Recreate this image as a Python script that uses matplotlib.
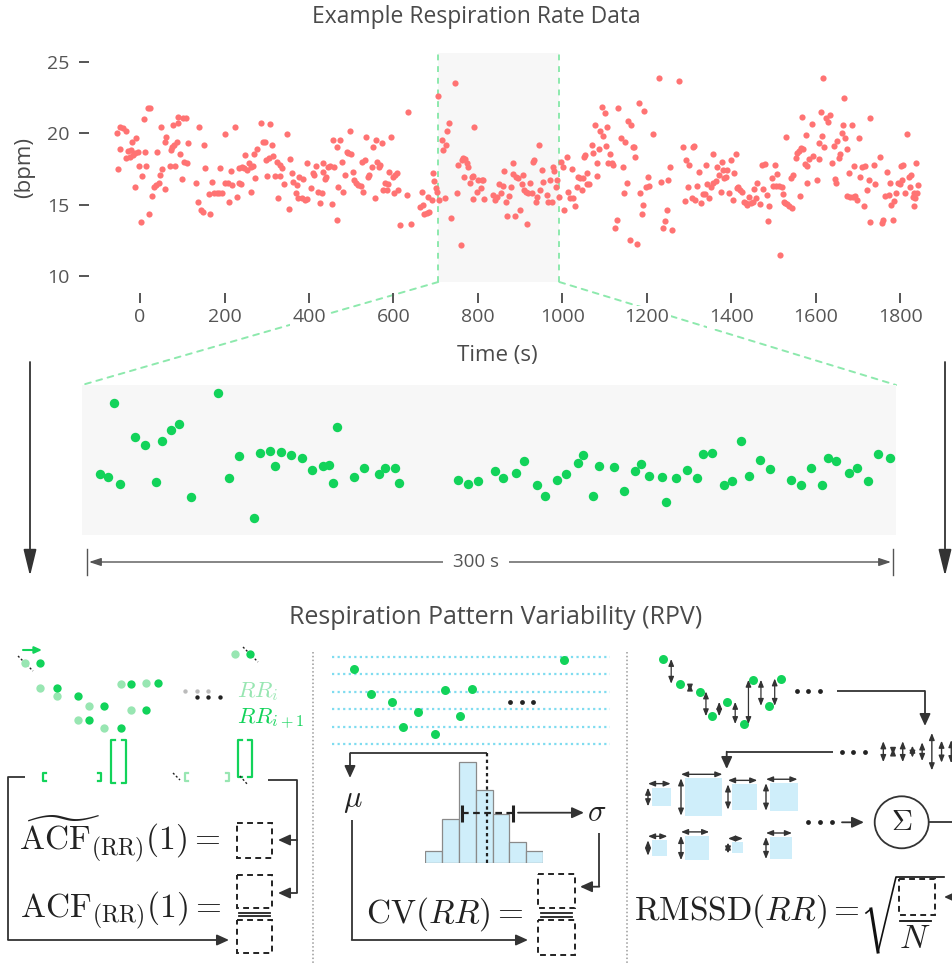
import numpy as np
import matplotlib
matplotlib.use("Agg")
import matplotlib.pyplot as plt
from matplotlib.patches import Rectangle, Ellipse, ConnectionPatch

plt.rcParams['font.family'] = ['Open Sans', 'DejaVu Sans']
plt.rcParams['mathtext.fontset'] = 'cm'

# =========================================================================
# 호흡수 데이터 (시간 s, 호흡수 bpm) - 구간별로 나눠서 기록
# =========================================================================
t_seg1 = [-54.4, -52.1, -48.1, -46.5, -40.2, -32.3, -32.3, -28.4, -24.4, -20.5,
          -18.9, -16.5, -12.6, -11.0, -8.6, -4.7, -2.3, 2.5, 5.6, 8.8,
          11.2, 15.1, 19.1, 22.2, 24.6, 28.5, 32.5, 38.8, 40.4, 45.1,
          46.7, 49.9, 53.0, 57.8, 60.1, 62.5, 70.4, 72.0, 74.4, 77.5,
          79.9, 82.3, 86.2, 88.6, 90.2, 94.1, 98.1, 100.4, 103.6, 108.3,
          109.9, 113.9, 132.8, 136.8, 139.1, 143.9, 147.8, 151.0, 154.1, 162.0,
          166.0, 170.7, 175.5, 181.0, 186.5, 188.9, 193.6, 201.5, 201.5, 207.9,
          209.4, 214.2, 217.3, 223.7, 228.4, 233.1, 234.7, 239.5, 241.0, 245.8,
          248.9, 252.1, 257.6, 261.6, 262.4, 267.9, 269.5, 272.6, 275.8, 286.9,
          291.6, 295.6, 297.9, 301.1, 304.2, 307.4, 312.1, 315.3, 320.0, 323.2,
          326.4, 331.1, 331.1, 335.1, 340.6, 347.7, 352.4, 355.6, 359.5, 362.7,
          369.0, 370.6, 374.6, 376.1]
b_seg1 = [20.03, 17.48, 18.88, 20.45, 20.33, 20.17, 18.23, 18.77, 18.35, 18.81,
          19.40, 18.46, 18.58, 16.24, 19.63, 18.70, 17.69, 13.79, 16.99, 20.99,
          18.67, 17.69, 21.78, 14.37, 21.78, 15.59, 16.20, 16.36, 18.67, 16.52,
          17.06, 20.45, 17.48, 16.08, 19.40, 19.75, 17.69, 18.81, 19.00, 20.57,
          19.16, 17.69, 19.40, 21.15, 20.68, 18.53, 16.78, 21.03, 18.00, 21.03,
          17.88, 19.28, 16.52, 15.17, 20.45, 14.61, 14.47, 19.14, 17.57, 15.73,
          14.33, 16.59, 15.82, 15.82, 15.82, 17.57, 15.82, 16.52, 19.91, 16.48,
          15.17, 17.36, 16.34, 20.45, 15.50, 16.48, 17.57, 16.41, 17.64, 17.53,
          18.46, 17.41, 17.88, 17.64, 15.89, 17.69, 18.51, 16.87, 18.86, 20.73,
          19.40, 19.40, 18.11, 16.99, 18.23, 20.61, 19.14, 18.42, 16.99, 18.00,
          15.43, 16.99, 17.76, 17.57, 16.43, 19.91, 14.70, 18.21, 17.18, 16.59,
          15.78, 16.36, 15.43, 16.90]

t_seg2 = [382.4, 386.3, 390.2, 394.2, 395.8, 403.7, 408.4, 411.6, 416.3, 421.9,
          425.8, 429.8, 432.1, 433.7, 437.7, 440.0, 445.6, 449.5, 453.5, 455.8,
          459.0, 465.3, 466.9, 469.3, 473.2, 477.2, 481.1, 485.1, 489.0, 493.0,
          496.9, 498.5, 503.2, 506.4, 511.1, 516.7, 522.2, 524.6, 528.5, 532.5,
          534.8, 540.4, 542.7, 548.3, 552.2, 556.1, 558.5, 561.7, 566.4, 568.0,
          572.0, 575.9, 579.9, 583.8, 587.8, 590.1, 594.1, 598.0, 601.2, 604.3,
          607.5, 611.5, 615.4, 631.2, 635.2, 640.7, 662.8, 666.8, 669.1, 672.3,
          678.6, 682.6, 684.9, 690.5, 692.8, 696.0, 700.7, 703.9, 706.3, 708.6,
          714.2, 718.1, 722.1, 724.4, 727.6, 730.7, 735.5, 745.8, 749.7, 753.7,
          759.2, 761.6, 765.5, 767.1, 769.5, 773.4, 777.4, 781.3, 785.3, 787.6,
          789.2, 790.8, 797.1, 801.1, 806.6, 809.0, 812.9, 814.5]
b_seg2 = [15.43, 16.76, 15.31, 15.36, 17.88, 16.13, 17.18, 17.06, 17.69, 15.89,
          15.08, 15.78, 17.88, 17.29, 16.76, 16.90, 17.64, 17.69, 15.03, 19.51,
          17.60, 13.91, 19.00, 16.24, 19.51, 18.00, 15.89, 17.06, 18.70, 18.58,
          20.17, 18.53, 17.29, 16.71, 16.48, 16.36, 16.29, 18.00, 15.89, 18.11,
          19.75, 16.94, 17.06, 17.60, 19.00, 15.43, 19.51, 18.00, 17.60, 17.76,
          19.28, 16.01, 16.48, 16.01, 16.43, 17.29, 19.75, 16.94, 15.82, 17.06,
          17.18, 16.01, 13.56, 15.66, 21.45, 13.63, 14.84, 15.89, 14.96, 14.33,
          14.42, 15.50, 14.49, 15.31, 17.18, 16.66, 16.13, 15.89, 22.60, 15.31,
          19.51, 18.81, 15.43, 19.16, 20.17, 20.73, 14.07, 23.48, 15.82, 17.76,
          12.20, 18.11, 18.23, 16.90, 18.16, 17.88, 17.64, 16.52, 16.94, 16.99,
          15.36, 20.45, 15.89, 16.71, 16.13, 16.71, 16.71, 15.36]

t_seg3 = [836.6, 840.6, 844.5, 850.8, 854.0, 858.7, 861.9, 866.6, 869.8, 874.5,
          877.7, 882.4, 884.0, 888.0, 890.3, 895.9, 899.8, 903.8, 906.1, 909.3,
          914.0, 915.6, 919.6, 923.5, 927.5, 929.8, 933.0, 937.7, 940.9, 944.0,
          947.2, 951.2, 955.1, 963.0, 967.0, 970.9, 974.9, 977.2, 980.4, 985.1,
          988.3, 992.2, 996.2, 1000.9, 1004.1, 1010.4, 1014.4, 1018.3, 1022.3, 1024.6,
          1030.2, 1034.1, 1038.1, 1042.0, 1046.0, 1048.3, 1051.5, 1053.9, 1057.8, 1059.4,
          1064.1, 1069.7, 1072.0, 1077.6, 1081.5, 1083.1, 1087.8, 1089.4, 1093.4, 1097.3,
          1101.3, 1103.6, 1106.8, 1109.2, 1113.1, 1117.1, 1121.0, 1124.9, 1128.9, 1131.3,
          1138.4, 1143.1, 1146.3, 1148.7, 1152.6, 1156.6, 1160.5, 1162.9, 1166.8, 1170.0,
          1172.4, 1177.9, 1181.0, 1184.2, 1188.2, 1192.1, 1194.5, 1198.4, 1202.4, 1206.3,
          1214.2, 1228.4, 1233.2, 1237.9, 1244.2, 1247.4, 1251.4, 1255.3, 1259.3, 1277.4]
b_seg3 = [15.66, 15.31, 15.50, 16.43, 15.82, 16.29, 17.36, 15.19, 14.19, 15.59,
          16.20, 17.13, 17.88, 14.19, 16.94, 16.83, 14.61, 16.43, 17.06, 16.01,
          15.89, 13.67, 15.82, 16.52, 15.78, 18.00, 18.11, 15.19, 15.54, 19.14,
          16.01, 17.41, 16.59, 15.66, 15.19, 16.71, 15.19, 17.60, 17.36, 16.24,
          16.71, 15.54, 18.00, 17.60, 14.61, 18.30, 15.89, 15.43, 17.46, 15.43,
          14.89, 16.20, 16.90, 16.83, 16.01, 16.83, 18.30, 18.46, 17.18, 16.43,
          16.43, 19.16, 18.63, 20.57, 17.88, 16.99, 18.86, 20.17, 21.80, 19.80,
          21.43, 19.09, 20.45, 17.93, 18.53, 17.88, 17.76, 13.37, 13.91, 21.73,
          19.63, 17.60, 15.82, 19.40, 16.52, 20.87, 12.51, 20.57, 19.00, 19.00,
          18.30, 12.27, 22.08, 15.82, 14.37, 14.96, 21.57, 16.20, 16.94, 16.29,
          19.93, 23.83, 16.59, 13.39, 13.86, 14.65, 16.71, 17.64, 13.21, 23.67]

t_seg4 = [1286.8, 1290.8, 1293.1, 1298.7, 1301.0, 1306.6, 1308.9, 1312.1, 1314.5, 1320.0,
          1324.7, 1327.9, 1332.6, 1337.4, 1340.5, 1342.1, 1348.4, 1351.6, 1356.3, 1357.9,
          1364.2, 1367.4, 1372.1, 1375.3, 1377.6, 1381.6, 1383.2, 1387.9, 1389.5, 1395.8,
          1399.0, 1403.7, 1406.9, 1410.8, 1413.2, 1417.2, 1421.1, 1425.1, 1430.6, 1435.3,
          1438.5, 1443.2, 1446.4, 1451.1, 1454.3, 1459.0, 1462.2, 1468.5, 1472.5, 1476.4,
          1480.4, 1484.3, 1488.3, 1490.6, 1496.2, 1500.1, 1504.1, 1506.4, 1509.6, 1514.3,
          1515.9, 1519.9, 1522.2, 1525.4, 1527.8, 1530.1, 1533.3, 1538.0, 1541.2, 1544.3,
          1547.5, 1553.8, 1555.4, 1559.4, 1563.3, 1564.9, 1568.0, 1571.2, 1575.2, 1577.5,
          1579.1, 1580.7, 1585.4, 1591.0, 1594.9, 1602.8, 1606.8, 1609.1, 1612.3, 1614.7,
          1617.0, 1620.2, 1624.9, 1628.1, 1634.4, 1638.4, 1642.3, 1645.5, 1648.6, 1650.2,
          1654.2, 1658.1, 1662.1, 1664.4, 1667.6, 1670.0, 1673.9, 1677.9, 1681.8, 1685.8,
          1688.1, 1691.3, 1693.7, 1697.6, 1701.6, 1705.5, 1709.5, 1713.4, 1717.4, 1721.3,
          1725.3, 1727.6, 1729.2]
b_seg4 = [19.00, 15.26, 18.11, 16.24, 17.76, 15.43, 19.00, 19.09, 15.31, 16.29,
          17.29, 15.12, 15.73, 15.73, 17.76, 16.43, 15.43, 16.24, 18.53, 16.48,
          16.66, 17.64, 17.06, 15.89, 18.00, 17.41, 16.83, 16.94, 17.41, 15.82,
          18.11, 15.31, 17.18, 18.53, 16.13, 16.24, 16.01, 15.89, 15.19, 15.08,
          14.96, 15.54, 15.08, 15.19, 16.06, 15.43, 16.48, 15.03, 17.76, 16.06,
          17.83, 15.66, 13.86, 14.89, 16.83, 16.29, 17.76, 16.29, 17.13, 16.29,
          11.45, 16.24, 15.73, 15.19, 15.08, 19.75, 15.03, 14.89, 16.83, 14.79,
          17.06, 18.23, 18.58, 18.77, 15.59, 18.93, 21.15, 18.86, 17.83, 19.86,
          17.69, 16.52, 18.16, 20.63, 18.39, 16.71, 18.16, 19.28, 21.45, 19.80,
          23.83, 19.00, 21.03, 20.80, 21.27, 17.88, 19.09, 16.76, 16.48, 19.47,
          18.23, 18.53, 20.03, 20.57, 22.43, 19.63, 15.59, 17.18, 15.50, 20.57,
          15.54, 17.69, 15.59, 15.31, 19.63, 16.90, 17.64, 14.89, 17.69, 16.01,
          16.71, 13.79, 21.03]

t_seg5 = [1674.5, 1737.1, 1741.1, 1751.3, 1756.9, 1759.2, 1764.8, 1768.7, 1772.7, 1775.0,
          1778.2, 1782.9, 1786.1, 1790.8, 1794.0, 1798.7, 1801.9, 1804.3, 1806.6, 1812.2,
          1816.1, 1820.1, 1824.0, 1825.6, 1830.3, 1831.9, 1833.5, 1835.9, 1838.2, 1839.8,
          1841.4]
b_seg5 = [18.86, 17.76, 16.43, 18.30, 13.72, 13.95, 15.59, 17.27, 15.66, 16.52,
          14.96, 13.91, 15.26, 15.82, 16.48, 16.43, 17.69, 16.71, 17.76, 15.82,
          19.91, 16.90, 16.20, 17.06, 15.54, 14.89, 15.82, 15.43, 17.93, 15.82,
          16.36]

rr_time = np.array(t_seg1 + t_seg2 + t_seg3 + t_seg4 + t_seg5)
rr_bpm = np.array(b_seg1 + b_seg2 + b_seg3 + b_seg4 + b_seg5)

window = (706, 993)        # 위쪽 그림의 회색 구간
zoom_start = 698           # 확대 패널에 쓰는 구간 시작
zoom_xlim = (694, 1003)

# RPV 도식용 예시 시계열
demo_t = [0, 17, 37.5, 49, 64, 81, 90.5, 106, 118]
demo_rr = [20.0, 18.1, 17.5, 15.6, 16.7, 15.0, 18.4, 16.4, 18.5]
demo_tail_t = 210
demo_tail_rr = 20.75
cv_levels = [20.97, 19.64, 18.28, 16.95, 15.58, 14.28]
hist_counts = [1.0, 3.6, 8.3, 6.0, 4.0, 1.7, 1.0]
hist_mean = 3.69
hist_sd = 1.5
sq_diffs = [1.7, 3.4, 2.3, 2.5, 1.4, 2.2, 1.0, 2.0]

# =========================================================================
W, H = 952, 963
RED = '#ff7373'
GREEN = '#12d35a'
LIGHT_GREEN = '#98e6b2'
DASH_GREEN = '#8de9ad'
BG_GRAY = '#f7f7f7'
INK = '#333333'
TXT = '#4a4a4a'
BLUE = '#cfeefa'
CYAN = '#7fdcf0'
FORMULA = 24

fig = plt.figure(figsize=(W / 100, H / 100), dpi=100)


def px_axes(x0, y0, x1, y1, z=2):
    a = fig.add_axes([x0 / W, 1 - y1 / H, (x1 - x0) / W, (y1 - y0) / H], zorder=z)
    a.patch.set_alpha(0)
    return a


ov = fig.add_axes([0, 0, 1, 1], zorder=0)
ov.set_xlim(0, W)
ov.set_ylim(H, 0)
ov.axis('off')


def arrow(p_from, p_to, ms=13, lw=1.3, style='-|>,head_length=0.55,head_width=0.25', color=INK, z=3):
    ov.annotate('', xy=p_to, xytext=p_from, zorder=z,
                arrowprops=dict(arrowstyle=style, color=color, lw=lw, mutation_scale=ms,
                                shrinkA=0, shrinkB=0))


def path(points, lw=1.3, color=INK):
    xs, ys = zip(*points)
    ov.plot(xs[:-1], ys[:-1], color=color, lw=lw, solid_capstyle='butt')
    arrow(points[-2], points[-1], lw=lw, color=color)


def dashed_box(x, y, w, h):
    ov.add_patch(Rectangle((x, y), w, h, fill=False, ec='#222', lw=1.4, ls=(0, (3, 2.2))))


def bracket(x, y0, y1, side, color, w=4, lw=1.6):
    d = w if side == 'left' else -w
    ov.plot([x + d, x, x, x + d], [y0, y0, y1, y1], color=color, lw=lw)


def scheme_axes(x0, y0, x1, y1, t0_px, rr0_px, sx=1.0, sy=13.0):
    a = px_axes(x0, y0, x1, y1)
    ref = demo_rr[0]
    a.set_xlim((x0 - t0_px) / sx, (x1 - t0_px) / sx)
    a.set_ylim(ref - (y1 - rr0_px) / sy, ref - (y0 - rr0_px) / sy)
    a.axis('off')
    return a


# --- 위쪽: 전체 호흡수 산점도 ---
ax = px_axes(100, 53, 925, 282, z=1)
ax.axvspan(window[0], window[1], color=BG_GRAY, zorder=0, lw=0)
for wx in window:
    ax.axvline(wx, color=DASH_GREEN, lw=1.4, ls=(0, (3, 3)), zorder=1)
ax.scatter(rr_time, rr_bpm, s=20, color=RED, lw=0, zorder=3)
ax.set_xlim(-95, 1859)
ax.set_ylim(9.58, 25.6)
ax.set_xticks(np.arange(0, 1801, 200))
ax.set_yticks([10, 15, 20, 25])
for sp in ax.spines.values():
    sp.set_color('none')
ax.spines['left'].set_position(('outward', 8))
ax.spines['bottom'].set_position(('outward', 8))
ax.tick_params(axis='both', length=7, width=1.4, color='#555', labelsize=14, labelcolor='#555')
ax.tick_params(axis='x', pad=4)
ax.tick_params(axis='y', pad=7)
for lab in ax.get_xticklabels():
    lab.set_bbox(dict(fc='white', ec='none', pad=1.5))

ov.text(476, 17, 'Example Respiration Rate Data', ha='center', va='center', fontsize=16.5, color=TXT)
ov.text(497, 355, 'Time (s)', ha='center', va='center', fontsize=16, color=TXT)
ov.text(25, 168, '(bpm)', ha='center', va='center', fontsize=16, color=TXT, rotation=90)

# --- 가운데: 300 s 확대 구간 ---
ax2 = px_axes(82, 385, 896, 535, z=1)
ax2.patch.set_alpha(1)
ax2.set_facecolor(BG_GRAY)
sel = (rr_time >= zoom_start) & (rr_time <= zoom_xlim[1])
ax2.scatter(rr_time[sel], rr_bpm[sel], s=46, color=GREEN, lw=0)
ax2.set_xlim(*zoom_xlim)
ax2.set_ylim(10.66, 24.22)
ax2.set_xticks([])
ax2.set_yticks([])
for sp in ax2.spines.values():
    sp.set_visible(False)

ybot = ax.get_ylim()[0]
for xa, xb in [(window[0], 0), (window[1], 1)]:
    con = ConnectionPatch(xyA=(xa, ybot), coordsA=ax.transData, xyB=(xb, 1), coordsB=ax2.transAxes,
                          color=DASH_GREEN, lw=1.4, ls=(0, (3, 3)), zorder=0.5)
    fig.add_artist(con)

big = '-|>,head_length=0.9,head_width=0.22'
arrow((30, 362), (30, 576), ms=18, style=big)
arrow((945, 362), (945, 576), ms=18, style=big)

ov.plot([87, 87], [549, 575], color='#555', lw=1)
ov.plot([893, 893], [549, 575], color='#555', lw=1)
arrow((89, 562), (891, 562), ms=12, lw=1, color='#555', style='<|-|>,head_length=0.6,head_width=0.2')
ov.text(476, 562, '300 s', ha='center', va='center', fontsize=13.5, color='#555', zorder=5,
        bbox=dict(fc='white', ec='none', pad=7))

ov.text(496, 617, 'Respiration Pattern Variability (RPV)', ha='center', va='center', fontsize=18, color=TXT)
for sx_ in (313, 627):
    ov.plot([sx_, sx_], [652, 963], color='#9a9a9a', lw=1.1, ls=(0, (1, 1.5)))

# --- 왼쪽 패널: ACF ---
acf = scheme_axes(0, 640, 312, 740, 40, 663.3)
acf.scatter([-15] + demo_t[:-1], demo_rr, s=36, color=LIGHT_GREEN, lw=0, clip_on=False)
acf.scatter(demo_t, demo_rr, s=36, color=GREEN, lw=0, clip_on=False)
acf.scatter([demo_tail_t - 15], [demo_tail_rr], s=36, color=LIGHT_GREEN, lw=0, clip_on=False)
acf.scatter([demo_tail_t], [demo_tail_rr], s=36, color=GREEN, lw=0, clip_on=False)
ov.plot([18, 33], [656, 671], color='#222', lw=1, ls=(0, (1.5, 1.5)), zorder=4)
ov.plot([243, 258], [647, 662], color='#222', lw=1, ls=(0, (1.5, 1.5)), zorder=4)
arrow((23, 650), (42, 650), ms=8, lw=1.5, color=GREEN)
ov.scatter([185, 197, 208], [691] * 3, s=10, color='#bbbbbb', lw=0)
ov.scatter([197, 208, 220], [697] * 3, s=10, color='#222222', lw=0)
ov.text(237, 697, r'$RR_i$', color=LIGHT_GREEN, fontsize=16.5, va='baseline')
ov.text(237, 724, r'$RR_{i+1}$', color=GREEN, fontsize=16.5, va='baseline')

bracket(111, 740, 783, 'left', GREEN)
bracket(126, 740, 783, 'right', GREEN)
bracket(238, 740, 777, 'left', GREEN)
bracket(252, 740, 777, 'right', GREEN)
bracket(43, 773, 781, 'left', GREEN, w=3)
bracket(101, 773, 781, 'right', GREEN, w=3)
bracket(185, 773, 781, 'left', LIGHT_GREEN, w=3)
bracket(229, 773, 781, 'right', LIGHT_GREEN, w=3)
ov.plot([173, 180], [773, 780], color='#222', lw=1, ls=(0, (1.5, 1.5)))
ov.plot([240, 248], [776, 785], color='#222', lw=1, ls=(0, (1.5, 1.5)))

path([(25, 777), (8, 777), (8, 940), (229, 940)])
path([(268, 780), (297, 780), (297, 893), (278, 893)])
arrow((297, 840), (278, 840))

ov.text(19, 851, r'$\widetilde{\mathrm{ACF}}_{(\mathrm{RR})}(1) =$', fontsize=FORMULA, va='baseline', color='#222')
dashed_box(237, 823, 35, 35)
ov.text(20, 918, r'$\mathrm{ACF}_{(\mathrm{RR})}(1) =$', fontsize=FORMULA, va='baseline', color='#222')
dashed_box(237, 875, 35, 33)
ov.plot([239, 270], [913, 913], color='#222', lw=1.3)
ov.plot([239, 270], [916.5, 916.5], color='#222', lw=1.3)
dashed_box(237, 920, 35, 33)

# --- 가운데 패널: CV ---
cv = scheme_axes(320, 645, 620, 750, 354.3, 669.3)
cv.hlines(cv_levels, -22, 256, colors=CYAN, lw=1.6, linestyles=(0, (1, 1.5)))
cv.scatter(demo_t + [demo_tail_t], demo_rr + [demo_tail_rr], s=42, color=GREEN, lw=0, zorder=3,
           clip_on=False)
ov.scatter([510, 521.7, 533.3], [701.7] * 3, s=12, color='#222222', lw=0)

hx = px_axes(425, 740, 543.3, 863.3)
hx.bar(np.arange(len(hist_counts)), hist_counts, width=1, align='edge', color=BLUE,
       edgecolor='#8a8a8a', lw=0.9)
hx.set_xlim(0, len(hist_counts))
hx.set_ylim(0, 10.07)
hx.vlines(hist_mean, 0, 9.0, colors='#222', linestyles=(0, (1.5, 1.5)), lw=1.6)
hx.hlines(4.13, hist_mean - hist_sd, hist_mean + hist_sd, colors='#222', linestyles=(0, (3, 2)), lw=1.6)
hx.vlines([hist_mean - hist_sd, hist_mean + hist_sd], 3.4, 4.8, colors='#222', lw=2.2)
hx.axis('off')

path([(487.3, 753.3), (350, 753.3), (350, 778)])
ov.text(353, 800, r'$\mu$', fontsize=22, ha='center', va='center', color='#222')
path([(351.7, 820), (351.7, 940), (528, 940)])
arrow((518, 812.7), (584, 812.7))
ov.text(597, 812.7, r'$\sigma$', fontsize=22, ha='center', va='center', color='#222')
path([(599.3, 833), (599.3, 886.7), (580, 886.7)])
ov.text(366, 923, r'$\mathrm{CV}(RR) =$', fontsize=FORMULA, va='baseline', color='#222')
dashed_box(538.3, 874.3, 36.7, 34)
ov.plot([541, 572], [913.3, 913.3], color='#222', lw=1.3)
ov.plot([541, 572], [916.7, 916.7], color='#222', lw=1.3)
dashed_box(538.3, 920, 36.7, 35)

# --- 오른쪽 패널: RMSSD ---
small = '<|-|>,head_length=0.45,head_width=0.18'
rm = scheme_axes(630, 640, 880, 740, 662.7, 659)
rm.scatter(demo_t, demo_rr, s=42, color=GREEN, lw=0, zorder=3, clip_on=False)
for i in range(len(demo_t) - 1):
    tm = (demo_t[i] + demo_t[i + 1]) / 2
    rm.annotate('', xy=(tm, demo_rr[i + 1]), xytext=(tm, demo_rr[i]),
                arrowprops=dict(arrowstyle=small, mutation_scale=9, lw=0.9, color=INK,
                                shrinkA=0, shrinkB=0))
ov.scatter([796.7, 808.3, 820], [691] * 3, s=12, color='#222222', lw=0)
path([(836.7, 691), (925, 691), (925, 726)])

dr = px_axes(875, 720, 960, 784)
dr.set_xlim(-0.856, 7.9)
dr.set_ylim(-2.94, 2.88)
dr.axis('off')
for i, d in enumerate(np.abs(np.diff(demo_rr))):
    dr.annotate('', xy=(i, d / 2), xytext=(i, -d / 2),
                arrowprops=dict(arrowstyle=small, mutation_scale=9, lw=1.0, color=INK,
                                shrinkA=0, shrinkB=0))
ov.scatter([841.7, 853.3, 865], [751.7] * 3, s=12, color='#222222', lw=0)
path([(833.3, 751.7), (726.7, 751.7), (726.7, 769)])

sq_cols = [652, 685, 732, 770]
sq_rows = [797, 848]
for k, d in enumerate(sq_diffs):
    r, c = divmod(k, 4)
    s = d * 11
    left, top = sq_cols[c], sq_rows[r] - s / 2
    ov.add_patch(Rectangle((left, top), s, s, fc=BLUE, ec='none'))
    arrow((left - 4, top - 4), (left + s, top - 4), ms=9, lw=1.0, style=small)
    arrow((left - 4, top), (left - 4, top + s), ms=9, lw=1.0, style=small)

ov.scatter([808.3, 820, 831.7], [822.3] * 3, s=12, color='#222222', lw=0)
arrow((842, 822.3), (864, 822.3))
ov.add_patch(Ellipse((901.7, 822.3), 54, 52, fill=False, ec=INK, lw=1.3))
ov.text(901.7, 822.3, r'$\Sigma$', fontsize=21, ha='center', va='center', color='#222')
ov.plot([929, 960], [822.3, 822.3], color=INK, lw=1.3)
arrow((965, 897), (944, 897))

ov.text(634, 920, r'$\mathrm{RMSSD}(RR) =$', fontsize=FORMULA, va='baseline', color='#222')
ov.plot([866, 871], [913, 909], color='#111', lw=1.2)
ov.plot([871, 878], [909, 952], color='#111', lw=2.2)
ov.plot([878, 896, 944], [952, 877, 877], color='#111', lw=1.2)
dashed_box(899, 879, 36, 36)
ov.plot([900, 931], [921.5, 921.5], color='#111', lw=1.3)
ov.text(915, 940, r'$N$', fontsize=FORMULA, ha='center', va='center', color='#222')

fig.savefig('out.png', dpi=100)
